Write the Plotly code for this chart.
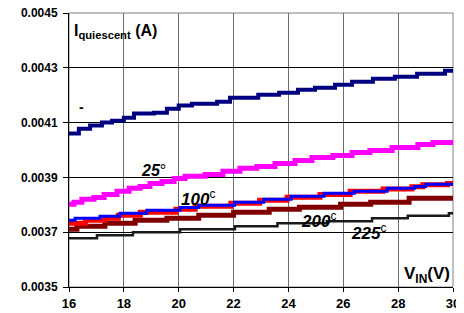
import plotly.graph_objects as go

# Step breakpoints (V_IN in volts, I_quiescent in A)
navy_v = [16.0, 16.36, 16.77, 17.2, 17.57, 18.0, 18.37, 19.1, 19.57, 20.0, 20.48, 21.4, 21.87,
          22.9, 23.66, 24.35, 24.97, 25.7, 26.32, 27.08, 27.88, 28.69, 29.71, 30.0]
navy_i = [0.00406, 0.004078, 0.004089, 0.0041, 0.004107, 0.004118, 0.004133, 0.004136, 0.004151,
          0.004162, 0.004169, 0.004176, 0.004191, 0.004202, 0.004209, 0.00422, 0.004227, 0.004238,
          0.004249, 0.00426, 0.004267, 0.004278, 0.004289, 0.004289]

mag_v = [16.0, 16.18, 16.47, 16.91, 17.28, 17.75, 18.19, 18.59, 18.95, 19.39, 19.83, 20.23, 20.96,
         21.61, 22.23, 22.85, 23.51, 24.24, 24.86, 25.62, 26.32, 26.97, 27.78, 28.72, 29.27, 30.0]
mag_i = [0.003802, 0.003809, 0.00382, 0.003827, 0.003838, 0.003849, 0.00386, 0.003867, 0.003878,
         0.003885, 0.003896, 0.003904, 0.003911, 0.003922, 0.003933, 0.00394, 0.003951, 0.003962,
         0.003973, 0.00398, 0.003991, 0.003998, 0.004009, 0.00402, 0.004027, 0.004031]

blue_v = [16.0, 16.22, 17.13, 17.86, 18.84, 20.05, 20.73, 22.04, 23.1, 24.1, 25.3, 26.4, 27.6,
          28.6, 29.0, 30.0]
blue_i = [0.003744, 0.003751, 0.003758, 0.003769, 0.00378, 0.00379, 0.003798, 0.003809, 0.00382,
          0.003831, 0.003842, 0.003849, 0.00386, 0.003867, 0.003875, 0.003878]

red_v = [16.0, 16.6, 17.3, 17.8, 18.6, 19.9, 20.6, 21.9, 22.95, 23.95, 25.15, 26.25, 27.45,
         28.5, 28.9, 29.8, 30.0]
red_i = [0.003733, 0.003744, 0.003751, 0.003762, 0.003773, 0.003784, 0.003795, 0.003806, 0.003817,
         0.003828, 0.003838, 0.003849, 0.003858, 0.003866, 0.003873, 0.003878, 0.003878]

dred_v = [16.0, 16.29, 17.31, 18.41, 19.57, 20.73, 22.0, 23.3, 24.4, 25.9, 27.0, 28.4, 30.0]
dred_i = [0.003711, 0.003722, 0.003733, 0.003744, 0.003751, 0.003762, 0.003773, 0.003784,
          0.003791, 0.003802, 0.003809, 0.003824, 0.003824]

blk_v = [16.0, 17.02, 18.33, 20.05, 22.05, 23.6, 25.4, 27.05, 28.35, 29.85, 30.0]
blk_i = [0.003678, 0.003689, 0.0037, 0.003711, 0.003722, 0.003733, 0.00374, 0.003751, 0.00376,
         0.003769, 0.003769]

x_ticks = [16, 18, 20, 22, 24, 26, 28, 30]
y_ticks = [0.0035, 0.0037, 0.0039, 0.0041, 0.0043, 0.0045]

fig = go.Figure()
series = [
    (blk_v, blk_i, "#1a1a1a", 2.5),
    (dred_v, dred_i, "#800000", 5),
    (red_v, red_i, "#FF0000", 5),
    (blue_v, blue_i, "#0000FF", 3),
    (mag_v, mag_i, "#FF00FF", 5),
    (navy_v, navy_i, "#000080", 4),
]
for xv, yv, col, w in series:
    fig.add_trace(go.Scatter(x=xv, y=yv, mode="lines", line=dict(color=col, width=w, shape="hv"),
                             showlegend=False, hoverinfo="skip"))

font = "Arial, 'Liberation Sans', sans-serif"
# page body has an 8px default margin, so the figure is sized/margined to compensate
fig.update_layout(
    width=456, height=305,
    margin=dict(l=61, r=11, t=5, b=26, autoexpand=False),
    paper_bgcolor="white", plot_bgcolor="white",
    font=dict(family=font, color="black"),
    xaxis=dict(range=[16, 30], tickvals=x_ticks, ticktext=[f"<b>{v}</b>" for v in x_ticks],
               showgrid=True, gridcolor="#6e6e6e", gridwidth=1, zeroline=False,
               showline=True, linecolor="black", linewidth=1, ticklabeloverflow="allow",
               ticks="outside", ticklen=4, tickcolor="black", tickfont=dict(size=13)),
    yaxis=dict(range=[0.0035, 0.0045], tickvals=y_ticks,
               ticktext=[f"<b>{v:.4f}</b>" for v in y_ticks],
               showgrid=True, gridcolor="black", gridwidth=1, zeroline=False,
               showline=True, linecolor="black", linewidth=1, ticklabeloverflow="allow",
               ticks="outside", ticklen=5, tickcolor="black", tickfont=dict(size=12),
               ticklabelstandoff=3),
)
fig.add_shape(type="rect", xref="paper", yref="paper", x0=0, x1=1, y0=0, y1=1,
              line=dict(color="#808080", width=1), layer="below")

ann = [
    ("<b>I<sub>quiescent</sub> (A)</b>", 0.008, 0.934, 16, "left"),
    ("<b>-</b>", 0.022, 0.657, 14, "left"),
    ("<b><i>25</i></b>°", 0.183, 0.427, 16, "left"),
    ("<b><i>100</i></b><sup>c</sup>", 0.287, 0.325, 17, "left"),
    ("<b><i>200</i></b><sup>c</sup>", 0.600, 0.245, 17, "left"),
    ("<b><i>225</i></b><sup>c</sup>", 0.730, 0.200, 17, "left"),
    ("<b>V<sub>IN</sub>(V)</b>", 0.997, 0.044, 17, "right"),
]
for t, x, y, s, xa in ann:
    fig.add_annotation(text=t, x=x, y=y, xref="paper", yref="paper", showarrow=False,
                       xanchor=xa, yanchor="middle", font=dict(size=s, family=font, color="black"))

fig.write_html("out.html")
